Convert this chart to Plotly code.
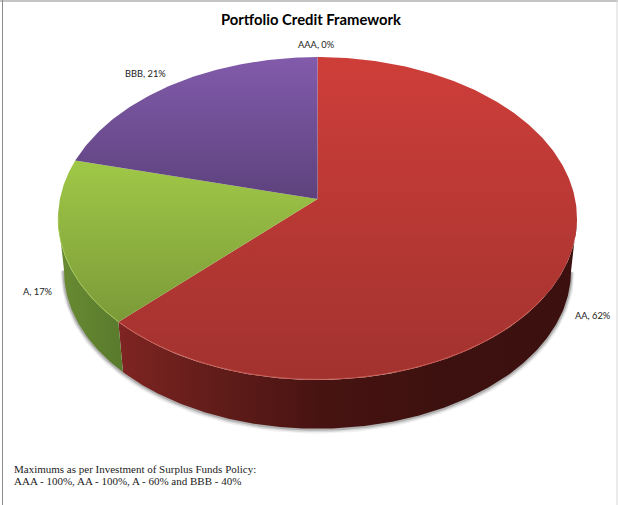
import numpy as np
import plotly.graph_objects as go

# Portfolio shares by credit rating, clockwise from twelve o'clock
categories = ["AAA", "AA", "A", "BBB"]
shares = [0, 62, 17, 21]

title_text = "Portfolio Credit Framework"
footnote_lines = [
    "Maximums as per Investment of Surplus Funds Policy:",
    "AAA - 100%, AA - 100%, A - 60% and BBB - 40%",
]

# Top-face shading (upper colour, lower colour)
top_colors = {
    "AAA": ("#4F81BD", "#4F81BD"),
    "AA": ("#CE3E39", "#A2322F"),
    "A": ("#A0C847", "#7B9A38"),
    "BBB": ("#825BAB", "#5D427D"),
}
# Side-wall shading, left to right
side_colors = {
    "AA": [[0, "#7F2422"], [0.18, "#651E1B"], [0.44, "#471311"], [0.7, "#3D110F"], [1, "#3B100E"]],
    "A": [[0, "#6A8B33"], [1, "#587A2C"]],
}
rim_highlight = {"AA": "rgba(226,120,110,0.55)", "A": "rgba(176,214,96,0.6)"}
label_anchor = {"AAA": (316, 44), "AA": (592.5, 315), "A": (37.5, 291), "BBB": (145, 73)}

# Tilted-disc projection of the unit circle onto the page
CX, CY = 317.5, 199.0
A, B, P = 257.6, 159.1, 0.1207
RIM_SCALE, RIM_VANISH_Y = 0.977, 2500.0
# Foreshortening of the angle in the near-left quadrant of the disc
NEAR_LEFT_SKEW = np.radians(1.8)


def top_rim(theta):
    theta = np.asarray(theta, dtype=float)
    in_quadrant = (theta > np.pi) & (theta < 1.5 * np.pi)
    t = theta + NEAR_LEFT_SKEW * np.sin(2 * theta) * in_quadrant
    sx, cy = np.sin(t), np.cos(t)
    w = 1 + P * cy
    return CX + A * sx / w, CY - B * cy / w


def bottom_rim(theta):
    x, y = top_rim(theta)
    return CX + RIM_SCALE * (x - CX), RIM_VANISH_Y + RIM_SCALE * (y - RIM_VANISH_Y)


def arc(a0, a1):
    return np.linspace(a0, a1, max(int(abs(a1 - a0) * 80), 2))


fig = go.Figure()
total = sum(shares)
fractions = np.cumsum(shares) / total
ends = 2 * np.pi * fractions
starts = np.concatenate([[0.0], ends[:-1]])
vis_right = np.arccos(-P)
vis_left = 2 * np.pi - vis_right

# Soft shadow under the lower rim
th = arc(vis_right, vis_left)
sx, sy = bottom_rim(th)
for width, alpha, off in [(7, 0.06, 1.5), (5, 0.10, 1.0), (3, 0.18, 0.5)]:
    fig.add_trace(go.Scatter(x=sx, y=sy + off, mode="lines", hoverinfo="skip",
                             line=dict(color=f"rgba(0,0,0,{alpha})", width=width)))

# Side walls of the disc
for name, a0, a1 in zip(categories, starts, ends):
    lo, hi = max(a0, vis_right), min(a1, vis_left)
    if name not in side_colors or hi <= lo:
        continue
    th = arc(lo, hi)
    x1, y1 = top_rim(th)
    x2, y2 = bottom_rim(th[::-1])
    fig.add_trace(go.Scatter(
        x=np.r_[x1, x2, x1[0]], y=np.r_[y1, y2, y1[0]], mode="lines", fill="toself",
        line=dict(width=0), hoverinfo="skip",
        fillgradient=dict(type="horizontal", colorscale=side_colors[name]),
    ))

# Top faces of the slices
for name, a0, a1 in zip(categories, starts, ends):
    if a1 <= a0:
        continue
    x, y = top_rim(arc(a0, a1))
    up, low = top_colors[name]
    fig.add_trace(go.Scatter(
        x=np.r_[CX, x, CX], y=np.r_[CY, y, CY], mode="lines", fill="toself",
        line=dict(width=0), hoverinfo="skip",
        fillgradient=dict(type="vertical", colorscale=[[0, low], [1, up]]),
    ))

# Light bevel along the near edge of the top face
for name, a0, a1 in zip(categories, starts, ends):
    lo, hi = max(a0, vis_right), min(a1, vis_left)
    if name not in rim_highlight or hi <= lo:
        continue
    hx, hy = top_rim(arc(max(lo, np.radians(125)), hi))
    fig.add_trace(go.Scatter(x=hx, y=hy - 0.5, mode="lines", hoverinfo="skip",
                             line=dict(color=rim_highlight[name], width=1)))

annotations = [
    dict(x=311, y=19, text=f"<b>{title_text}</b>", showarrow=False,
         font=dict(family="Lato", size=14.8, color="#000000")),
]
for name, value in zip(categories, shares):
    ax, ay = label_anchor[name]
    annotations.append(dict(x=ax, y=ay, text=f"{name}, {value}%", showarrow=False,
                            font=dict(family="Lato", size=9.3, color="#222222")))
for line, ly in zip(footnote_lines, [469, 481]):
    annotations.append(dict(x=12, y=ly, text=line, showarrow=False, xanchor="left",
                            font=dict(family="Liberation Serif", size=11, color="#222222")))

# Thin frame around the page
frame = [
    dict(type="line", x0=0, x1=618, y0=1, y1=1, line=dict(color="#C4C4C4", width=2)),
    dict(type="line", x0=2.5, x1=2.5, y0=0, y1=505, line=dict(color="#8C8C8C", width=1)),
    dict(type="line", x0=617, x1=617, y0=0, y1=505, line=dict(color="#D8D8D8", width=1)),
]

fig.update_layout(
    width=618, height=505, autosize=False,
    margin=dict(l=0, r=0, t=0, b=0),
    paper_bgcolor="white", plot_bgcolor="white", showlegend=False,
    xaxis=dict(range=[0, 618], visible=False, fixedrange=True),
    yaxis=dict(range=[505, 0], visible=False, fixedrange=True),
    annotations=annotations, shapes=frame,
)
fig.write_html("out.html", config={"displayModeBar": False})
